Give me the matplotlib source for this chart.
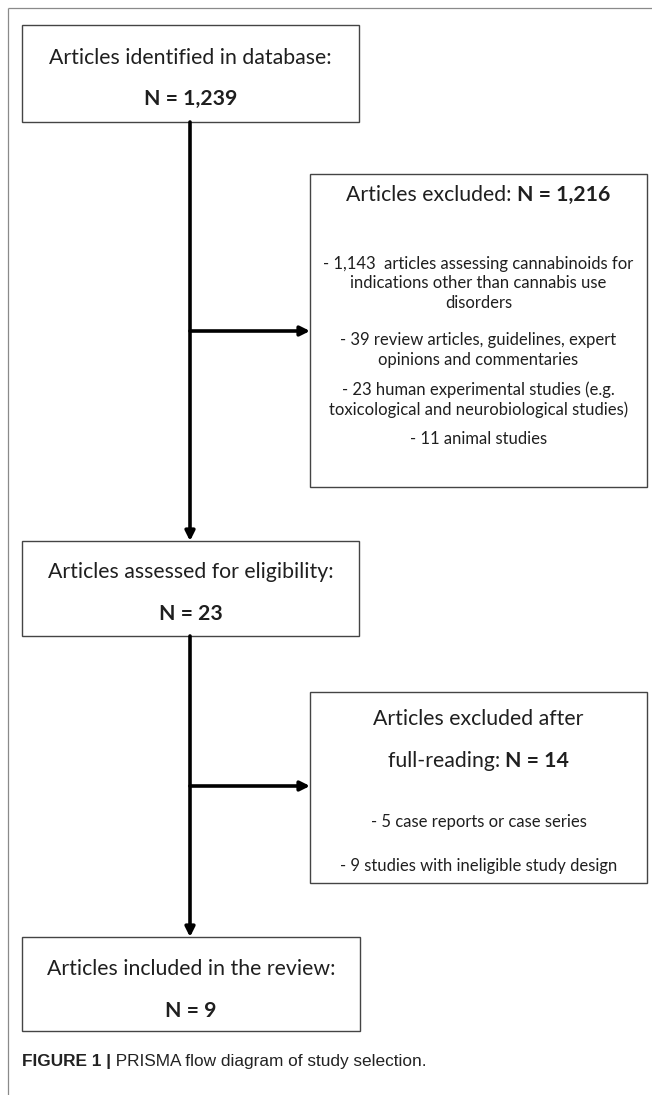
import matplotlib.pyplot as plt
from matplotlib.patches import Rectangle

# Flow data
stage_labels = ["Articles identified in database:",
                "Articles assessed for eligibility:",
                "Articles included in the review:"]
stage_n = [1239, 23, 9]

excluded_titles = [["Articles excluded: "],
                   ["Articles excluded after", "full-reading: "]]
excluded_n = [1216, 14]

screening_reasons = [
    ["- 1,143  articles assessing cannabinoids for",
     "indications other than cannabis use",
     "disorders"],
    ["- 39 review articles, guidelines, expert",
     "opinions and commentaries"],
    ["- 23 human experimental studies (e.g.",
     "toxicological and neurobiological studies)"],
    ["- 11 animal studies"],
]
fulltext_reasons = [
    ["- 5 case reports or case series"],
    ["- 9 studies with ineligible study design"],
]

caption_bold = "FIGURE 1 |"
caption_rest = " PRISMA flow diagram of study selection."

# Layout (pixels, y grows downward)
W, H = 652, 1095
stage_boxes = [(22, 25, 359, 122), (22, 541, 359, 636), (22, 937, 360, 1031)]
stage_text_y = [(56, 97), (570, 612), (967, 1009)]
excl_boxes = [(310, 174, 647, 487), (310, 692, 647, 883)]
excl_title_y = [[193], [717, 759]]
excl_reason_y = [[[262, 282, 302], [339, 359], [388, 408], [438]],
                 [[820], [865]]]
arrow_y = [331, 786]
trunk_x = 190

box_font = 'Lato'
box_size = 15.3
reason_size = 12.0

fig = plt.figure(figsize=(W / 100, H / 100), dpi=100)
ax = fig.add_axes([0, 0, 1, 1])
ax.set_xlim(0, W)
ax.set_ylim(H, 0)
ax.axis('off')

# outer frame (top and left only)
ax.plot([8, W], [8, 8], color='#8a8a8a', lw=0.9, solid_capstyle='butt')
ax.plot([8, 8], [8, H], color='#8a8a8a', lw=0.9, solid_capstyle='butt')

def draw_box(b):
    x0, y0, x1, y1 = b
    ax.add_patch(Rectangle((x0, y0), x1 - x0, y1 - y0, fill=False,
                           edgecolor='#444444', lw=1.0))

renderer = fig.canvas.get_renderer()

def runs_centered(cx, y, runs, size, family=box_font, color='#1f1f1f', ha='center'):
    # runs: list of (text, weight); lay them side by side
    texts = []
    for s, w in runs:
        texts.append(ax.text(0, y, s, fontsize=size, fontweight=w, family=family,
                             color=color, ha='left', va='center_baseline'))
    widths = [t.get_window_extent(renderer=renderer).width for t in texts]
    x = cx - sum(widths) / 2 if ha == 'center' else cx
    for t, w in zip(texts, widths):
        t.set_x(x)
        x += w
    return texts

def arrow(x0, y0, x1, y1):
    ax.annotate('', xy=(x1, y1), xytext=(x0, y0),
                arrowprops=dict(arrowstyle='-|>', lw=2.6, color='black',
                                mutation_scale=14, shrinkA=0, shrinkB=0))

# stage boxes
for b, lab, n, (y1, y2) in zip(stage_boxes, stage_labels, stage_n, stage_text_y):
    draw_box(b)
    cx = (b[0] + b[2]) / 2
    runs_centered(cx, y1, [(lab, 'normal')], box_size)
    runs_centered(cx, y2, [(f"N = {n:,}", 'bold')], box_size)

# exclusion boxes
reason_sets = [screening_reasons, fulltext_reasons]
for b, title, n, ty, reasons, ry in zip(excl_boxes, excluded_titles, excluded_n,
                                        excl_title_y, reason_sets, excl_reason_y):
    draw_box(b)
    cx = (b[0] + b[2]) / 2
    for i, (line, y) in enumerate(zip(title, ty)):
        if i == len(title) - 1:
            runs_centered(cx, y, [(line, 'normal'), (f"N = {n:,}", 'bold')], box_size)
        else:
            runs_centered(cx, y, [(line, 'normal')], box_size)
    for block, ys in zip(reasons, ry):
        for line, y in zip(block, ys):
            runs_centered(cx, y, [(line, 'normal')], reason_size)

# trunk arrows
arrow(trunk_x, stage_boxes[0][3], trunk_x, stage_boxes[1][1])
arrow(trunk_x, stage_boxes[1][3], trunk_x, stage_boxes[2][1])
for y, b in zip(arrow_y, excl_boxes):
    arrow(trunk_x, y, b[0], y)

# caption
runs_centered(22, 1060, [(caption_bold, 'bold'), (caption_rest, 'normal')], 12.4,
              family='Liberation Sans', color='#222222', ha='left')

fig.savefig('out.png', dpi=100, facecolor='white')
